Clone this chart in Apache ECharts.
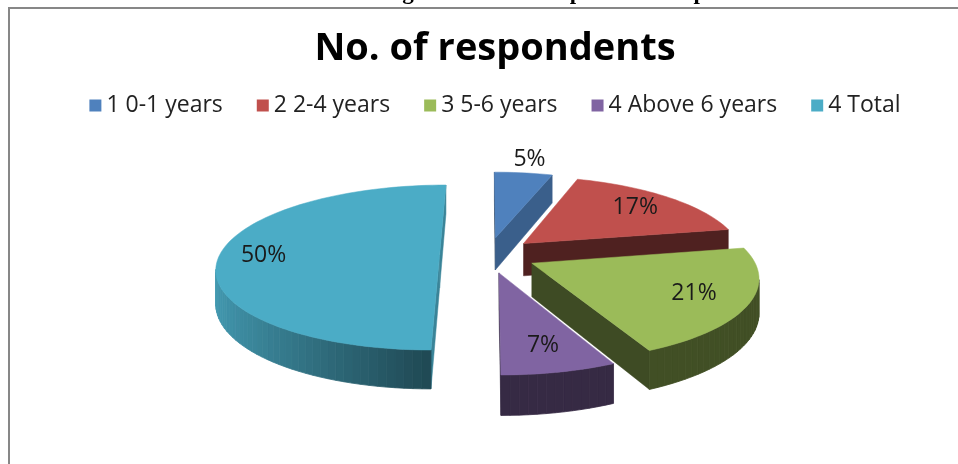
<!DOCTYPE html>
<html><head><meta charset="utf-8">
<script src="https://cdn.jsdelivr.net/npm/echarts/dist/echarts.min.js"></script>
<style>html,body{margin:0;padding:0;background:#fff;overflow:hidden}#c{width:990px;height:464px}</style>
</head><body><div id="c"></div>
<script>
// ---- data ----
const categories = ['1 0-1 years', '2 2-4 years', '3 5-6 years', '4 Above 6 years', '4 Total'];
const respondents = [5, 17, 21, 7, 50];
const colors = ['#4F81BD', '#C0504D', '#9BBB59', '#8064A2', '#4BACC6'];
const chartTitle = 'No. of respondents';
const pageCaption = 'Chart 2 \u2013 Chart showing towards the respondent\u2019s experience in MB';

// ---- geometry of the faux-3D pie ----
const geo = { cx: 488, cy: 255, Rx: 220, Ry: 80.6, D: 6.6, T: 33, explode: 0.22 };
const total = respondents.reduce((s, v) => s + v, 0);
function proj(a, b, h) {
  const f = geo.D / (geo.D - b);
  return [geo.cx + geo.Rx * a * f, geo.cy + geo.Ry * b * f + h * geo.T * f];
}
function shade(hex, k) {
  const n = parseInt(hex.slice(1), 16);
  const r = Math.round(((n >> 16) & 255) * k), g = Math.round(((n >> 8) & 255) * k), b = Math.round((n & 255) * k);
  return 'rgb(' + r + ',' + g + ',' + b + ')';
}
function wallK(na) { return 0.42 + 0.48 * Math.max(0, -na); }
function faceK(na) { return 0.4 + 0.37 * Math.pow(Math.max(0, na), 2); }
function visible(na, nb, pa, pb) { return na * (0 - pa) + nb * (geo.D - pb) > 0; }

const angles = [];
{ let c = 0; respondents.forEach(v => { const s = c / total * 2 * Math.PI; c += v; angles.push([s, c / total * 2 * Math.PI]); }); }
const mids = angles.map(([s, e]) => (s + e) / 2);
const order = mids.map((m, i) => i).sort((i, j) => (-Math.cos(mids[i])) - (-Math.cos(mids[j])));
const rank = []; order.forEach((idx, r) => rank[idx] = r);

function makeRender(i) {
  return function (params, api) {
    const val = api.value(0);
    const [s, e] = angles[i];
    const m = (s + e) / 2;
    const oa = geo.explode * Math.sin(m), ob = -geo.explode * Math.cos(m);
    const N = Math.max(4, Math.ceil((e - s) / (Math.PI / 90)));
    const arc = [];
    for (let k = 0; k <= N; k++) arc.push(s + (e - s) * k / N);
    const base = colors[i];
    const z0 = rank[i] * 10;
    const children = [];
    // radial cut faces
    const faces = [[s, -Math.cos(s), -Math.sin(s)], [e, Math.cos(e), Math.sin(e)]];
    faces.forEach(([t, na, nb]) => {
      if (!visible(na, nb, oa, ob)) return;
      const pa = oa + Math.sin(t), pb = ob - Math.cos(t);
      const c = shade(base, faceK(na));
      children.push({ type: 'polygon', z2: z0 + 1, shape: { points: [proj(oa, ob, 0), proj(pa, pb, 0), proj(pa, pb, 1), proj(oa, ob, 1)] },
        style: { fill: c, stroke: c, lineWidth: 0.5 } });
    });
    // outer curved wall
    for (let k = 0; k < N; k++) {
      const t0 = arc[k], t1 = arc[k + 1], tm = (t0 + t1) / 2;
      const na = Math.sin(tm), nb = -Math.cos(tm);
      if (!visible(na, nb, oa + na, ob + nb)) continue;
      const a0 = oa + Math.sin(t0), b0 = ob - Math.cos(t0), a1 = oa + Math.sin(t1), b1 = ob - Math.cos(t1);
      const c = shade(base, wallK(na));
      children.push({ type: 'polygon', z2: z0 + 1, shape: { points: [proj(a0, b0, 0), proj(a1, b1, 0), proj(a1, b1, 1), proj(a0, b0, 1)] },
        style: { fill: c, stroke: c, lineWidth: 0.8 } });
    }
    // top face
    const top = [proj(oa, ob, 0)];
    arc.forEach(t => top.push(proj(oa + Math.sin(t), ob - Math.cos(t), 0)));
    children.push({ type: 'polygon', z2: z0 + 2, shape: { points: top }, style: { fill: base, stroke: base, lineWidth: 0.5 } });
    // percentage label
    const pct = Math.round(val / total * 100);
    const r = pct < 6 ? 1.25 : (pct >= 50 ? 0.8 : 0.76);
    const lp = proj(oa + r * Math.sin(m), ob - r * Math.cos(m), 0);
    children.push({ type: 'text', z2: 100, style: { text: pct + '%', x: lp[0], y: lp[1], align: 'center', verticalAlign: 'middle',
      fontFamily: 'Open Sans', fontSize: 23, fill: '#1a1a1a' } });
    return { type: 'group', children };
  };
}

const chart = echarts.init(document.getElementById('c'), null, { renderer: 'canvas' });
chart.setOption({
  animation: false,
  color: colors,
  title: { text: chartTitle, left: 'center', top: 25, textStyle: { fontFamily: 'Open Sans', fontWeight: 'bold', fontSize: 38, color: '#000' } },
  legend: { data: categories, top: 89, left: 'center', icon: 'rect', itemWidth: 12, itemHeight: 12, itemGap: 34,
    textStyle: { fontFamily: 'Open Sans', fontSize: 23, color: '#222' } },
  graphic: [
    { type: 'rect', z: -1, silent: true, shape: { x: 9, y: 8, width: 1100, height: 600 }, style: { fill: 'none', stroke: '#878787', lineWidth: 2 } },
    { type: 'text', silent: true, style: { text: pageCaption, x: 507, y: 5, align: 'center', verticalAlign: 'bottom',
      fontFamily: 'Liberation Serif', fontWeight: 'bold', fontSize: 23, fill: '#000' } }
  ],
  series: categories.map((name, i) => ({
    type: 'custom', name, coordinateSystem: 'none', renderItem: makeRender(i),
    itemStyle: { color: colors[i] }, data: [[respondents[i]]]
  }))
});
</script></body></html>
